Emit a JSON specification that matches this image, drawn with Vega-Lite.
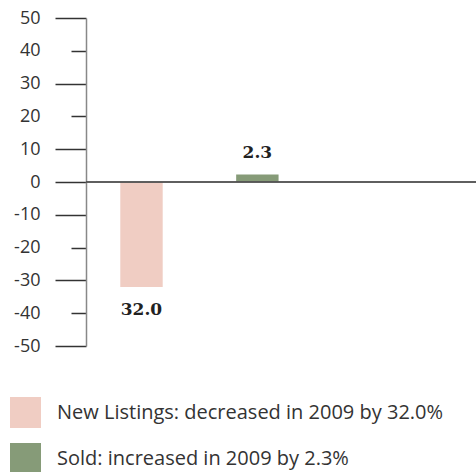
{
  "$schema": "https://vega.github.io/schema/vega-lite/v6.json",
  "width": 390,
  "height": 328,
  "autosize": {"type": "none"},
  "padding": {"left": 86, "top": 18, "right": 0, "bottom": 126},
  "config": {"view": {"stroke": null}, "axis": {"labelOverlap": false}},
  "data": {
    "values": [
      {"category": "New Listings", "value": -32.0, "label": "32.0", "legend": "New Listings: decreased in 2009 by 32.0%"},
      {"category": "Sold", "value": 2.3, "label": "2.3", "legend": "Sold: increased in 2009 by 2.3%"}
    ]
  },
  "layer": [
    {
      "mark": {"type": "bar"},
      "encoding": {
        "x": {"field": "category", "type": "nominal", "sort": null, "axis": null,
          "scale": {"paddingInner": 0.634, "paddingOuter": 1.058, "align": 0.148}},
        "y": {"field": "value", "type": "quantitative",
          "scale": {"domain": [-50, 50], "nice": false},
          "axis": {
            "values": [-50, -40, -30, -20, -10, 0, 10, 20, 30, 40, 50],
            "tickCount": 20,
            "labelExpr": "'' + datum.value",
            "labelOverlap": false,
            "tickSize": {"condition": {"test": "datum.value % 20 == 0 && datum.value != 0", "value": 15}, "value": 31},
            "labelPadding": {"condition": {"test": "datum.value % 20 == 0 && datum.value != 0", "value": 31}, "value": 15},
            "tickColor": "#333", "tickWidth": 1.5,
            "domainColor": "#888", "domainWidth": 1.5,
            "labelFont": "Open Sans", "labelFontSize": 18, "labelColor": "#333",
            "title": null, "grid": false
          }},
        "color": {"field": "legend", "type": "nominal", "sort": null,
          "scale": {"range": ["#f0cdc3", "#869b78"]},
          "legend": {
            "orient": "none", "legendX": -76, "legendY": 379, "title": null,
            "padding": 0, "symbolType": "square", "symbolSize": 961, "symbolStrokeWidth": 0,
            "labelFont": "Open Sans", "labelFontSize": 20, "labelColor": "#333",
            "labelOffset": 16, "rowPadding": 15, "labelLimit": 500
          }}
      }
    },
    {
      "mark": {"type": "rule", "color": "#555", "strokeWidth": 1.5},
      "encoding": {"y": {"datum": 0, "type": "quantitative"}}
    },
    {
      "transform": [{"filter": "datum.value < 0"}],
      "mark": {"type": "text", "font": "DejaVu Serif", "fontWeight": "bold", "fontSize": 17, "color": "#222", "baseline": "middle", "dy": 23},
      "encoding": {
        "x": {"field": "category", "type": "nominal", "sort": null},
        "y": {"field": "value", "type": "quantitative"},
        "text": {"field": "label"}
      }
    },
    {
      "transform": [{"filter": "datum.value >= 0"}],
      "mark": {"type": "text", "font": "DejaVu Serif", "fontWeight": "bold", "fontSize": 17, "color": "#222", "baseline": "middle", "dy": -21},
      "encoding": {
        "x": {"field": "category", "type": "nominal", "sort": null},
        "y": {"field": "value", "type": "quantitative"},
        "text": {"field": "label"}
      }
    }
  ]
}
